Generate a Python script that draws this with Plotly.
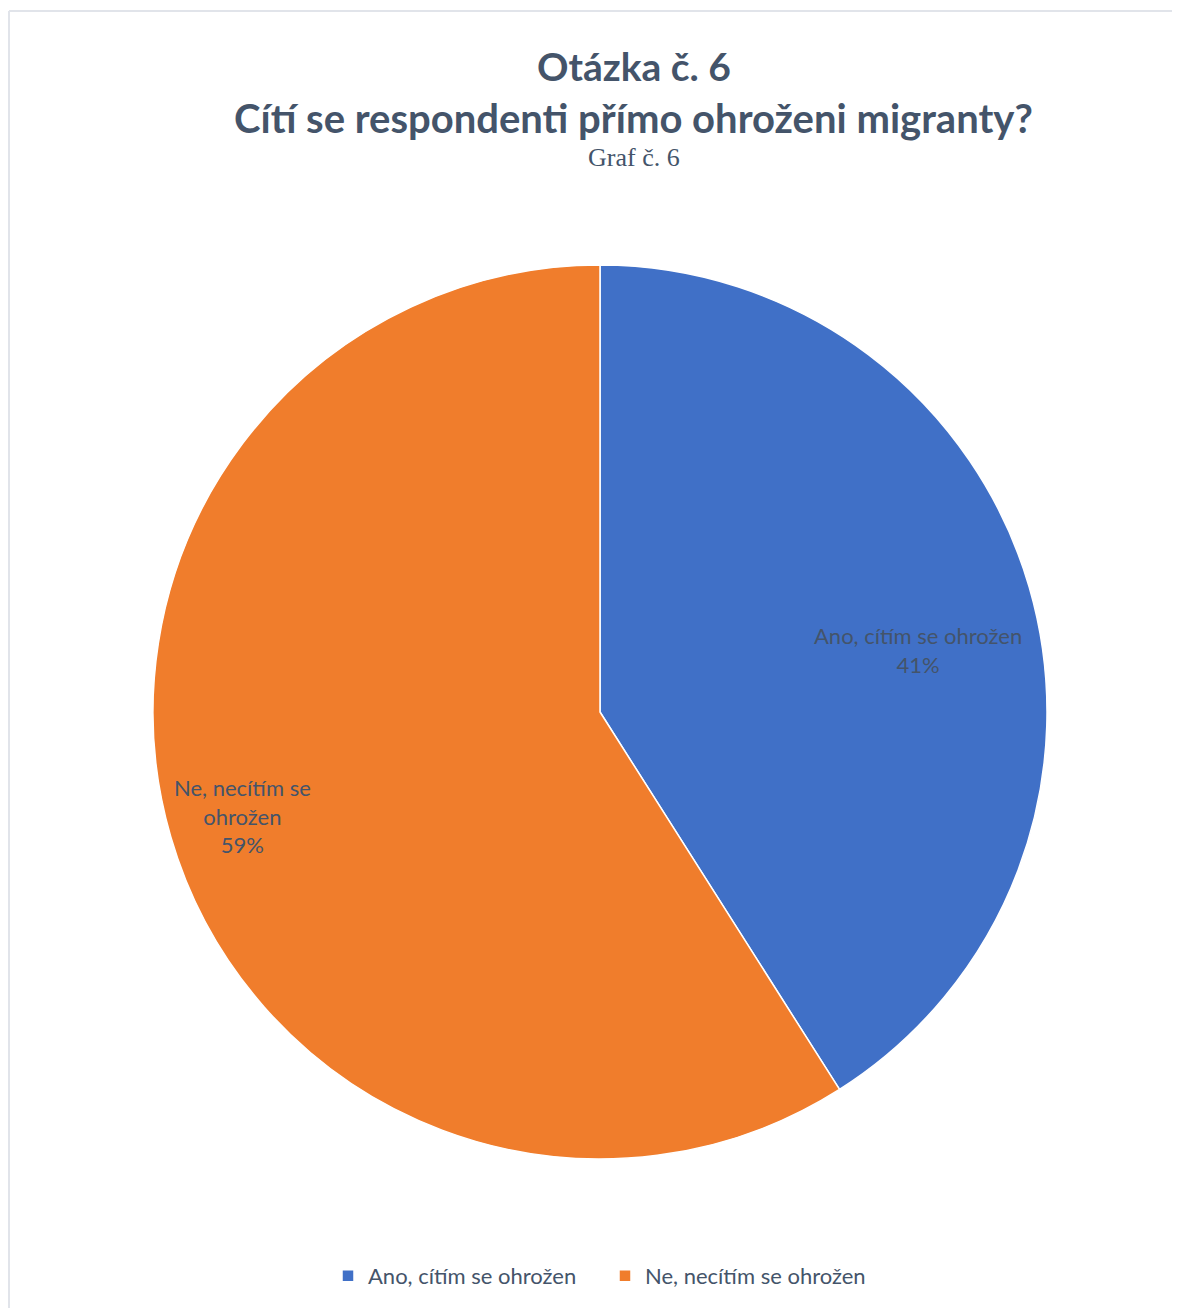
import plotly.graph_objects as go

labels = ["Ano, cítím se ohrožen", "Ne, necítím se ohrožen"]
label_lines = ["Ano, cítím se ohrožen", "Ne, necítím se<br>ohrožen"]
values = [41, 59]
colors = ["#4070C7", "#F07D2C"]

title1 = "Otázka č. 6"
title2 = "Cítí se respondenti přímo ohroženi migranty?"
subtitle = "Graf č. 6"

W, H = 1180, 1308
OFF = 8  # page body margin
cx, cy, r = 600 - OFF, 712 - OFF, 447


def px(x):
    return (x - OFF) / W


def py(y):
    return 1 - (y - OFF) / H


fig = go.Figure()
fig.add_trace(go.Pie(
    labels=labels,
    values=values,
    sort=False,
    direction="clockwise",
    rotation=0,
    marker=dict(colors=colors, line=dict(color="white", width=1.5)),
    textinfo="none",
    hoverinfo="label+percent",
    domain=dict(x=[(cx - r) / W, (cx + r) / W], y=[(H - cy - r) / H, (H - cy + r) / H]),
))

annotations = []
label_pos = [(918, 650), (242, 816)]
total = sum(values)
for i, (lx, ly) in enumerate(label_pos):
    annotations.append(dict(
        x=px(lx), y=py(ly), xref="paper", yref="paper",
        text=f"{label_lines[i]}<br>{round(values[i] / total * 100)}%",
        showarrow=False, font=dict(family="Lato, sans-serif", size=22, color="#44546A"),
        xanchor="center", yanchor="middle", align="center",
    ))

annotations.append(dict(x=px(634), y=py(66), xref="paper", yref="paper", text=f"<b>{title1}</b>",
                        showarrow=False, font=dict(family="Lato, sans-serif", size=39, color="#44546A"),
                        xanchor="center", yanchor="middle"))
annotations.append(dict(x=px((235 + 1032) / 2), y=py(118), xref="paper", yref="paper", text=f"<b>{title2}</b>",
                        showarrow=False, font=dict(family="Lato, sans-serif", size=40, color="#44546A"),
                        xanchor="center", yanchor="middle"))
annotations.append(dict(x=px(634), y=py(158), xref="paper", yref="paper", text=subtitle,
                        showarrow=False, font=dict(family="Liberation Serif, Times New Roman, serif", size=26, color="#44546A"),
                        xanchor="center", yanchor="middle"))

shapes = [
    dict(type="line", xref="paper", yref="paper", x0=px(9), x1=1.0, y0=py(11), y1=py(11),
         line=dict(color="#E1E4EA", width=2)),
    dict(type="line", xref="paper", yref="paper", x0=px(9), x1=px(9), y0=py(11), y1=0,
         line=dict(color="#E1E4EA", width=2)),
]

fig.update_layout(
    width=W, height=H,
    margin=dict(l=0, r=0, t=0, b=0),
    paper_bgcolor="white",
    plot_bgcolor="white",
    annotations=annotations,
    shapes=shapes,
    showlegend=True,
    legend=dict(orientation="h", x=px(605), xanchor="center", y=py(1276), yanchor="middle",
                font=dict(family="Lato, sans-serif", size=22, color="#44546A"),
                traceorder="normal", itemwidth=30, entrywidth=232),
)

fig.write_html("out.html")
